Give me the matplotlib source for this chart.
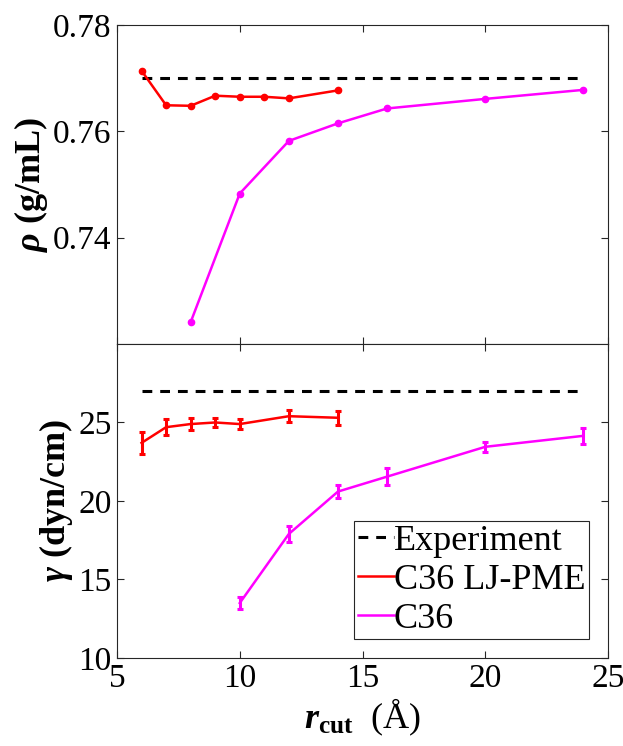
import matplotlib
matplotlib.use("Agg")
import matplotlib.pyplot as plt

plt.rcParams["font.family"] = ["Liberation Serif", "DejaVu Serif"]
plt.rcParams["mathtext.fontset"] = "custom"
plt.rcParams["mathtext.rm"] = "Liberation Serif"
plt.rcParams["mathtext.it"] = "Liberation Serif:italic:bold"
plt.rcParams["mathtext.bf"] = "Liberation Serif:bold"

# cutoff radius (Angstrom)
r_ljpme = [6, 7, 8, 9, 10, 11, 12, 14]
rho_ljpme = [0.7714, 0.7649, 0.7648, 0.7667, 0.7665, 0.7665, 0.7662, 0.7677]
r_c36 = [8, 10, 12, 14, 16, 20, 24]
rho_c36 = [0.7241, 0.7483, 0.7582, 0.7615, 0.7643, 0.7661, 0.7678]

r_gam_ljpme = [6, 7, 8, 9, 10, 12, 14]
gam_ljpme = [23.7, 24.7, 24.9, 25.0, 24.9, 25.4, 25.3]
gam_ljpme_err = [0.68, 0.5, 0.38, 0.3, 0.34, 0.4, 0.45]
r_gam_c36 = [10, 12, 14, 16, 20, 24]
gam_c36 = [13.5, 17.9, 20.6, 21.55, 23.45, 24.15]
gam_c36_err = [0.4, 0.5, 0.44, 0.53, 0.3, 0.5]

r_exp = [6, 24]
rho_exp = 0.770
gam_exp = 27.0

RED = "#ff0000"
MAG = "#ff00ff"
FS = 26
TICK_FS = 24

fig = plt.figure(figsize=(6.23, 7.46), dpi=100)
ax1 = fig.add_axes([0.1878, 0.5389, 0.7882, 0.4276])
ax2 = fig.add_axes([0.1878, 0.1180, 0.7882, 0.4209])

# density
ax1.plot(r_exp, [rho_exp] * 2, "--", color="black", lw=2.2, dashes=(3.2, 2.6))
ax1.plot(r_ljpme, rho_ljpme, "-o", color=RED, lw=1.8, ms=4.5)
ax1.plot(r_c36, rho_c36, "-o", color=MAG, lw=1.8, ms=4.5)
ax1.set_ylim(0.72, 0.78)
ax1.set_yticks([0.74, 0.76, 0.78])
ax1.set_xticklabels([])
ax1.set_ylabel(r"$\rho$ (g/mL)", fontsize=FS, fontweight="bold", labelpad=2)

# surface tension
ax2.plot(r_exp, [gam_exp] * 2, "--", color="black", lw=2.2, dashes=(3.2, 2.6),
         label="Experiment")
ax2.errorbar(r_gam_ljpme, gam_ljpme, yerr=gam_ljpme_err, color=RED, lw=1.8,
             elinewidth=2.2, capsize=2.5, capthick=2.2, label="C36 LJ-PME")
ax2.errorbar(r_gam_c36, gam_c36, yerr=gam_c36_err, color=MAG, lw=1.8,
             elinewidth=2.2, capsize=2.5, capthick=2.2, label="C36")
ax2.set_ylim(10, 30)
ax2.set_yticks([10, 15, 20, 25])
ax2.set_ylabel(r"$\gamma$ (dyn/cm)", fontsize=FS, fontweight="bold", labelpad=2)
ax2.set_xlabel(r"$r_{\mathbf{cut}}$  (Å)", fontsize=FS, labelpad=2)

# legend shows plain line samples, not the error bar glyphs
handles, labels = ax2.get_legend_handles_labels()
handles = [h.lines[0] if hasattr(h, "lines") else h for h in handles]
leg = ax2.legend(handles, labels, loc="lower right", bbox_to_anchor=(0.961, 0.06),
                 fontsize=FS, frameon=True, fancybox=False, framealpha=1,
                 edgecolor="#262626", handlelength=1.0, handletextpad=0.0,
                 borderpad=0.1, labelspacing=0.15, borderaxespad=0)
leg.get_frame().set_linewidth(0.8)

for ax in (ax1, ax2):
    ax.set_xlim(5, 25)
    ax.set_xticks([5, 10, 15, 20, 25])
    ax.tick_params(direction="in", top=True, right=True, length=5, width=0.8,
                   labelsize=TICK_FS, colors="#262626", labelcolor="black", pad=4)
    for s in ax.spines.values():
        s.set_color("#262626")
        s.set_linewidth(0.8)

fig.savefig("out.png", dpi=100)
